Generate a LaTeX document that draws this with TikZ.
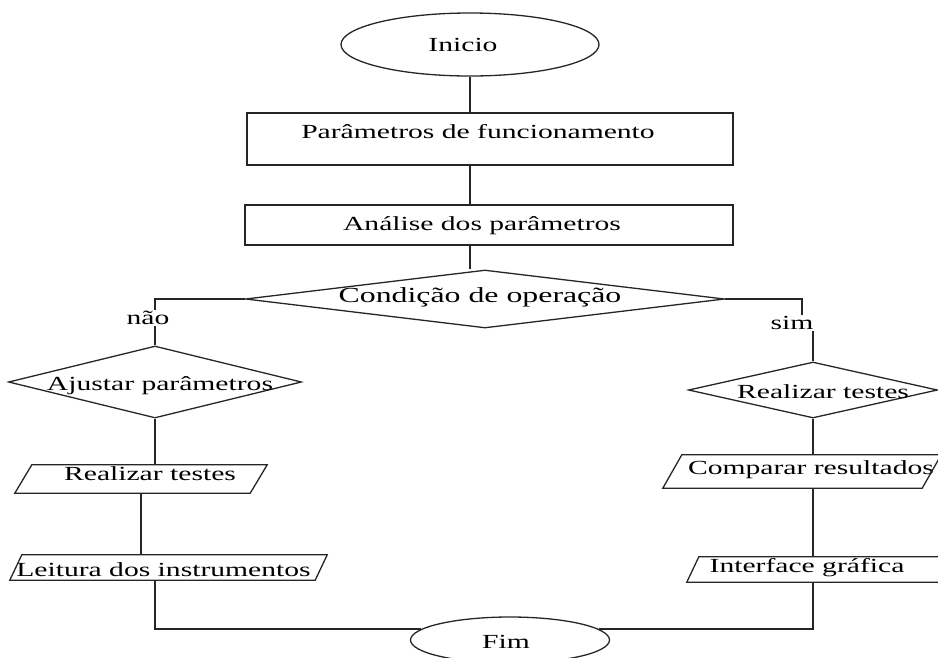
\documentclass[tikz,border=0pt]{standalone}
\usepackage{fontspec}
\setmainfont{Liberation Serif}[FakeStretch=1.48]
\usetikzlibrary{shapes.geometric}

\tikzset{
  ink/.style={draw=black!85, line width=1.3pt},
  flow/.style={ink},
  term/.style={ellipse, ink, fill=white, inner sep=0pt},
  boxst/.style={rectangle, ink, fill=white, inner sep=0pt},
  decision/.style={diamond, ink, fill=white, inner sep=0pt},
  io/.style={rectangle, inner sep=0pt},
  lbl/.style={font=\fontsize{20}{24}\selectfont, inner sep=0pt, text=black},
  biglbl/.style={font=\fontsize{21.5}{26}\selectfont, inner sep=0pt, text=black},
  branch/.style={lbl, fill=white, inner sep=1pt},
}

% slanted input/output outline around a named rectangle node;
% #2 is half of the horizontal slant
\newcommand\iobox[2]{%
  \draw[ink] ([xshift=-#2]#1.south west) -- ([xshift=-#2]#1.south east)
    -- ([xshift=#2]#1.north east) -- ([xshift=#2]#1.north west) -- cycle;}

\begin{document}
\begin{tikzpicture}[x=1pt, y=-1pt]
  \useasboundingbox (0,0) rectangle (938,657);
  \fill[white] (0,0) rectangle (938,657);

  % main column
  \node[term, minimum width=258pt, minimum height=63pt,
        label={[lbl, xshift=-7pt]center:Inicio}] (ini) at (470,44.5) {};
  \node[boxst, minimum width=486pt, minimum height=52pt,
        label={[lbl, xshift=-12pt, yshift=7pt]center:Parâmetros de funcionamento}] (p1) at (490,139) {};
  \node[boxst, minimum width=488pt, minimum height=40pt,
        label={[lbl, xshift=-7pt, yshift=-1pt]center:Análise dos parâmetros}] (p2) at (489,225) {};
  \node[decision, minimum width=479pt, minimum height=58pt,
        label={[biglbl, xshift=-5pt, yshift=2pt]center:Condição de operação}] (cond) at (485,299) {};

  % left branch
  \node[decision, minimum width=293pt, minimum height=72pt,
        label={[lbl, xshift=5pt, yshift=-4pt]center:Ajustar parâmetros}] (aj) at (155,382) {};
  \node[io, minimum width=235pt, minimum height=28pt,
        label={[lbl, xshift=9pt, yshift=5pt]center:Realizar testes}] (pr1) at (141,479) {};
  \iobox{pr1}{8.5pt}
  \node[io, minimum width=305pt, minimum height=25pt,
        label={[lbl, xshift=-5pt, yshift=-2pt]center:Leitura dos instrumentos}] (pr2) at (168.5,567.5) {};
  \iobox{pr2}{6pt}

  % right branch
  \node[decision, minimum width=249pt, minimum height=56pt,
        label={[lbl, xshift=10pt, yshift=-2pt]center:Realizar testes}] (rt) at (813,390) {};
  \node[io, minimum width=259pt, minimum height=33pt,
        label={[lbl, xshift=9pt, yshift=1.5pt]center:Comparar resultados}] (cmp) at (802,471.5) {};
  \iobox{cmp}{9.5pt}
  \node[io, minimum width=252pt, minimum height=25pt,
        label={[lbl, xshift=-12pt, yshift=1.5pt]center:Interface gráfica}] (intf) at (819,569.5) {};
  \iobox{intf}{6pt}

  % end
  \node[term, minimum width=199pt, minimum height=46pt,
        label={[lbl, xshift=-4pt, yshift=-2pt]center:Fim}] (fim) at (510,640) {};

  \coordinate (simjog) at (802,320);

  % connectors
  \draw[flow] (ini.south) -- (ini.south |- p1.north);
  \draw[flow] (p1.south -| ini.south) -- (ini.south |- p2.north);
  \draw[flow] (p2.south -| ini.south) -- (ini.south |- cond.north);

  \draw[flow] (cond.west) -| (aj.north);
  \draw[flow] (aj.south) -- (aj.south |- pr1.north);
  \draw[flow] (pr1.south) -- (pr1.south |- pr2.north);
  \draw[flow] (pr2.south -| aj.south) |- (fim.173);

  \draw[flow] (cond.east) -| (simjog) -- (simjog -| rt.north) -- (rt.north);
  \draw[flow] (rt.south) -- (rt.south |- cmp.north);
  \draw[flow] (rt.south |- cmp.south) -- (rt.south |- intf.north);
  \draw[flow] (rt.south |- intf.south) |- (fim.7);

  % branch labels
  \node[branch] (nao) at (148,318) {não};
  \node[branch] (sim) at (792,323) {sim};
\end{tikzpicture}
\end{document}
